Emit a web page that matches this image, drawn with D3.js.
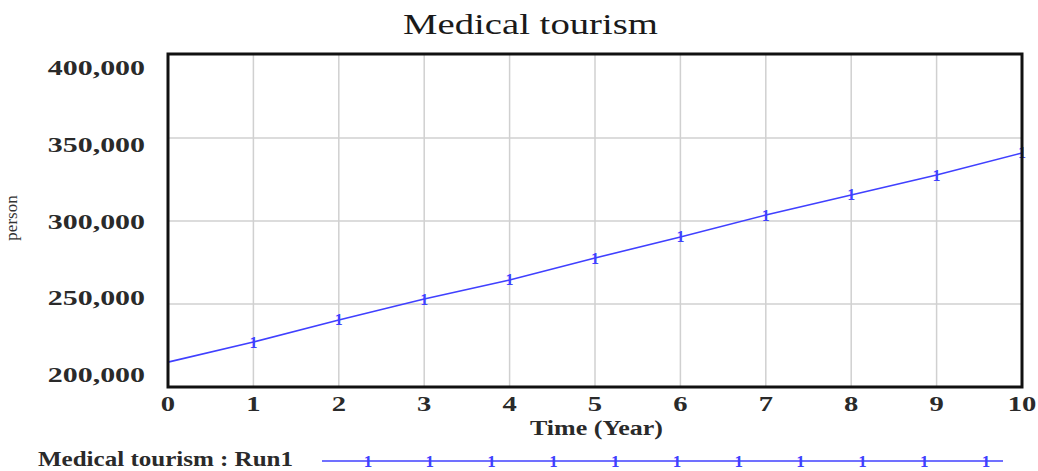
<!DOCTYPE html>
<html><head><meta charset="utf-8">
<script src="https://cdn.jsdelivr.net/npm/d3@7"></script>
<style>body{margin:0;background:#fff}svg{display:block}</style>
</head><body>
<svg id="c" width="1038" height="471"></svg>
<script>
const years = [0,1,2,3,4,5,6,7,8,9,10];
const medicalTourism = [215000,227100,240400,253000,264500,277700,290400,303600,315700,327700,341000];
const yTicks = [200000,250000,300000,350000,400000];
const xTicks = [0,1,2,3,4,5,6,7,8,9,10];
const legendMarks = [0,1,2,3,4,5,6,7,8,9,10];

const svg = d3.select('#c');
const L=168,R=1022,T=55,B=387;
const x = d3.scaleLinear().domain([0,10]).range([L,R]);
const y = d3.scaleLinear().domain([200000,400000]).range([B,T]);
const yLab = d3.scaleLinear().domain([200000,400000]).range([382,75]);
const serif = '"Liberation Serif","Times New Roman",serif';
const blue = '#4040ff';
const txtCol = '#2a2a2a';
const SX = 1.36;

svg.append('text').attr('x',403).attr('y',34)
  .attr('textLength',255).attr('lengthAdjust','spacingAndGlyphs')
  .attr('font-family',serif).attr('font-size',30).attr('fill','#1a1a1a').text('Medical tourism');

// grid
svg.append('g').selectAll('line').data(xTicks.slice(1,-1)).join('line')
  .attr('x1',d=>x(d)).attr('x2',d=>x(d)).attr('y1',T).attr('y2',B)
  .attr('stroke','#d0d0d0').attr('stroke-width',1.5);
svg.append('g').selectAll('line').data(yTicks.slice(1,-1)).join('line')
  .attr('y1',d=>y(d)).attr('y2',d=>y(d)).attr('x1',L).attr('x2',R)
  .attr('stroke','#d0d0d0').attr('stroke-width',1.5);

// line
svg.append('path').datum(years.map((d,i)=>[d,medicalTourism[i]]))
  .attr('d',d3.line().x(d=>x(d[0])).y(d=>y(d[1])))
  .attr('fill','none').attr('stroke',blue).attr('stroke-width',1.6);
svg.append('g').selectAll('text').data(years.slice(1)).join('text')
  .attr('x',d=>x(d)).attr('y',(d,i)=>y(medicalTourism[i+1])+5.5)
  .attr('text-anchor','middle').attr('font-family',serif).attr('font-size',16)
  .attr('font-weight','bold').attr('fill',blue).text('1');

// border
svg.append('rect').attr('x',L).attr('y',T-1).attr('width',R-L).attr('height',B-T+1)
  .attr('fill','none').attr('stroke','#111').attr('stroke-width',3);

// y labels
svg.append('g').selectAll('text').data(yTicks).join('text')
  .attr('transform',d=>`translate(145,${yLab(d)}) scale(${SX},1)`).attr('text-anchor','end')
  .attr('font-family',serif).attr('font-weight','bold').attr('font-size',22)
  .attr('fill',txtCol).text(d=>d3.format(',')(d));
// x labels
svg.append('g').selectAll('text').data(xTicks).join('text')
  .attr('transform',d=>`translate(${x(d)},411) scale(1.3,1)`).attr('text-anchor','middle')
  .attr('font-family',serif).attr('font-weight','bold').attr('font-size',22)
  .attr('fill',txtCol).text(d=>d);

svg.append('text').attr('x',530).attr('y',435)
  .attr('textLength',133).attr('lengthAdjust','spacingAndGlyphs')
  .attr('font-family',serif).attr('font-weight','bold').attr('font-size',20)
  .attr('fill',txtCol).text('Time (Year)');
svg.append('text').attr('transform','translate(17,218) rotate(-90)').attr('text-anchor','middle')
  .attr('font-family',serif).attr('font-size',17).attr('fill','#333').text('person');

// legend
svg.append('text').attr('x',38).attr('y',466)
  .attr('textLength',255).attr('lengthAdjust','spacingAndGlyphs')
  .attr('font-family',serif).attr('font-weight','bold').attr('font-size',21)
  .attr('fill',txtCol).text('Medical tourism : Run1');
const lx = d3.scaleLinear().domain([0,10]).range([368,986]);
svg.append('line').attr('x1',322).attr('x2',1003).attr('y1',461).attr('y2',461)
  .attr('stroke',blue).attr('stroke-width',1.6);
svg.append('g').selectAll('text').data(legendMarks).join('text')
  .attr('x',d=>lx(d)).attr('y',467).attr('text-anchor','middle')
  .attr('font-family',serif).attr('font-size',17).attr('font-weight','bold')
  .attr('fill',blue).text('1');
</script>
</body></html>
